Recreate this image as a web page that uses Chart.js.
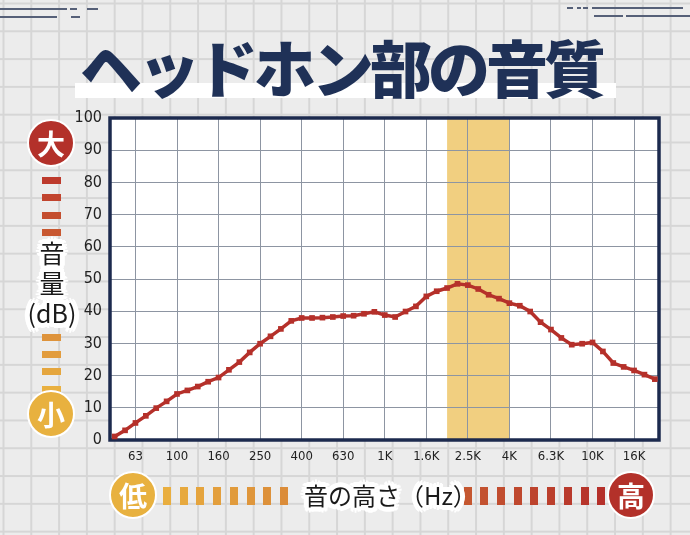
<!DOCTYPE html>
<html lang="ja">
<head>
<meta charset="utf-8">
<title>ヘッドホン部の音質</title>
<script src="https://cdn.jsdelivr.net/npm/chart.js@4.4.1/dist/chart.umd.min.js"></script>
<style>
  html, body { margin: 0; padding: 0; }
  body {
    width: 690px; height: 535px; overflow: hidden; position: relative;
    background-color: #ececec;
    background-image:
      linear-gradient(to right, #d6d6d6 1.5px, transparent 1.5px),
      linear-gradient(to bottom, #d6d6d6 1.5px, transparent 1.5px);
    background-size: 27.8px 27.8px;
    background-position: 2.5px 2.5px;
    font-family: "Noto Sans CJK JP", sans-serif;
  }
  #chart { position: absolute; left: 0; top: 0; }
  .deco { position: absolute; height: 2px; background: #566078; }
  .strip { position: absolute; left: 75px; top: 83px; width: 541px; height: 15px; background: #fff; }
  .title {
    position: absolute; left: 80px; top: 35px; margin: 0;
    font-size: 62px; line-height: 1; font-weight: 900; letter-spacing: -4px;
    color: #1f3157; white-space: nowrap;
  }
  .badge {
    position: absolute; width: 44px; height: 44px; border-radius: 50%;
    border: 2.5px solid #fff; color: #fff; font-size: 28px; font-weight: 700;
    display: flex; align-items: center; justify-content: center; line-height: 1;
  }
  .red { background: #b3312a; }
  .yellow { background: #e8b13f; }
  .dash { position: absolute; }
  .halo {
    position: absolute; color: #1a1a1a; font-weight: 400; white-space: nowrap;
    text-shadow:
      5px 0 #fff, -5px 0 #fff, 0 5px #fff, 0 -5px #fff,
      4px 3px #fff, -4px 3px #fff, 4px -3px #fff, -4px -3px #fff,
      3px 4px #fff, -3px 4px #fff, 3px -4px #fff, -3px -4px #fff,
      3px 0 #fff, -3px 0 #fff, 0 3px #fff, 0 -3px #fff,
      2px 2px #fff, -2px 2px #fff, 2px -2px #fff, -2px -2px #fff,
      1px 0 #fff, -1px 0 #fff, 0 1px #fff, 0 -1px #fff;
  }
  .yname { left: 12px; top: 237px; width: 80px; text-align: center; font-size: 25px; line-height: 30px; }
  .xname { left: 304px; top: 480px; font-size: 24px; line-height: 30px; }
</style>
</head>
<body>
<canvas id="chart" width="690" height="535"></canvas>

<div class="deco" style="left:0;top:8px;width:67px"></div>
<div class="deco" style="left:70px;top:8px;width:7px"></div>
<div class="deco" style="left:87px;top:8px;width:11px"></div>
<div class="deco" style="left:0;top:16px;width:57px"></div>
<div class="deco" style="left:71px;top:16px;width:9px"></div>
<div class="deco" style="left:567px;top:7px;width:6px"></div>
<div class="deco" style="left:577px;top:7px;width:4px"></div>
<div class="deco" style="left:583px;top:7px;width:5px"></div>
<div class="deco" style="left:592px;top:7px;width:91px"></div>
<div class="deco" style="left:594px;top:15px;width:29px"></div>
<div class="deco" style="left:626px;top:15px;width:64px"></div>

<div class="strip"></div>
<h1 class="title">ヘッドホン部の音質</h1>

<div id="dashes"></div>

<div class="halo yname">音<br>量<br>(dB)</div>
<div class="halo xname">音の高さ（Hz）</div>

<div class="badge red" style="left:27px;top:119px">大</div>
<div class="badge yellow" style="left:27px;top:390px">小</div>
<div class="badge yellow" style="left:109px;top:471px">低</div>
<div class="badge red" style="left:607px;top:471px">高</div>

<script>
// 周波数軸（1/6オクターブ刻みの測定点インデックス）
const FREQ_TICK_POS = [2, 6, 10, 14, 18, 22, 26, 30, 34, 38, 42, 46, 50];
const FREQ_TICK_LABELS = ['63', '100', '160', '250', '400', '630', '1K', '1.6K', '2.5K', '4K', '6.3K', '10K', '16K'];

// 音量 (dB)
const DB_VALUES = [
    1.1, 3.0, 5.3, 7.5, 9.9, 12.0, 14.3, 15.4, 16.6, 18.1,
    19.4, 21.8, 24.2, 27.2, 29.9, 32.2, 34.5, 37.0, 37.9, 37.9,
    38.0, 38.2, 38.5, 38.6, 39.2, 39.8, 38.8, 38.2, 39.9, 41.5,
    44.6, 46.2, 47.2, 48.5, 48.1, 46.9, 45.1, 43.9, 42.5, 41.7,
    39.9, 36.6, 34.3, 31.7, 29.6, 29.9, 30.3, 27.5, 23.9, 22.7,
    21.6, 20.3, 18.9
];

// 強調帯域 2K〜4K
const HIGHLIGHT_BAND = [32, 38];

const Y_MIN = 0;
const Y_MAX = 100;
const Y_STEP = 10;

const TICK_FONT = "'DejaVu Sans', sans-serif";

// 装飾の破線
function mix(a, b, t) {
    const pa = a.match(/\w\w/g).map(h => parseInt(h, 16));
    const pb = b.match(/\w\w/g).map(h => parseInt(h, 16));
    return 'rgb(' + pa.map((v, i) => Math.round(v + (pb[i] - v) * t)).join(',') + ')';
}

function addDashes() {
    const box = document.getElementById('dashes');
    // 縦（左側）
    for (let i = 0; i < 13; i++) {
        const y = 177 + i * 17.4;
        if (y > 238 && y < 326) continue;
        const d = document.createElement('div');
        d.className = 'dash';
        d.style.cssText = `left:42px;top:${y}px;width:19px;height:7px;background:${mix('bd3a2c', 'e9b040', i / 12)}`;
        box.appendChild(d);
    }
    // 横（下側）
    for (let i = 0; i < 27; i++) {
        const x = 163 + i * 16.7;
        if (x > 296 && x < 460) continue;
        const d = document.createElement('div');
        d.className = 'dash';
        d.style.cssText = `left:${x}px;top:487px;width:8px;height:18px;background:${mix('e9ae3f', 'b5302a', i / 26)}`;
        box.appendChild(d);
    }
}
addDashes();

const panelPlugin = {
    id: 'panel',
    beforeDraw(chart) {
        const { ctx, chartArea: a, scales: { x } } = chart;
        ctx.save();
        ctx.fillStyle = '#ffffff';
        ctx.fillRect(a.left, a.top, a.right - a.left, a.bottom - a.top);
        const x0 = x.getPixelForValue(HIGHLIGHT_BAND[0]);
        const x1 = x.getPixelForValue(HIGHLIGHT_BAND[1]);
        ctx.fillStyle = '#f1cf80';
        ctx.fillRect(x0, a.top, x1 - x0, a.bottom - a.top);
        ctx.restore();
    },
    beforeDatasetsDraw(chart) {
        const { ctx, chartArea: a } = chart;
        ctx.save();
        ctx.strokeStyle = '#1c2a4e';
        ctx.lineWidth = 3.5;
        ctx.strokeRect(a.left, a.top, a.right - a.left, a.bottom - a.top);
        ctx.restore();
    }
};

const ctx = document.getElementById('chart').getContext('2d');
new Chart(ctx, {
    type: 'line',
    data: {
        datasets: [{
            data: DB_VALUES.map((v, i) => ({ x: i, y: v })),
            borderColor: '#b5302a',
            backgroundColor: '#b5302a',
            borderWidth: 3.5,
            pointStyle: 'rect',
            pointRadius: 4,
            pointBorderWidth: 0,
            tension: 0,
            clip: false
        }]
    },
    options: {
        responsive: false,
        animation: false,
        layout: { padding: { left: 50, top: 118, right: 31, bottom: 55 } },
        plugins: {
            legend: { display: false },
            tooltip: { enabled: false }
        },
        scales: {
            x: {
                type: 'linear',
                min: -0.45,
                max: 52.4,
                afterBuildTicks: s => { s.ticks = FREQ_TICK_POS.map(v => ({ value: v })); },
                afterFit: s => { s.height = 40; },
                ticks: {
                    autoSkip: false,
                    maxRotation: 0,
                    padding: 9,
                    color: '#222',
                    font: { family: TICK_FONT, size: 13, weight: 'condensed' },
                    callback: (v, i) => FREQ_TICK_LABELS[i]
                },
                grid: { color: '#8d95a2', lineWidth: 1, drawTicks: false },
                border: { display: false }
            },
            y: {
                min: Y_MIN,
                max: Y_MAX,
                afterFit: s => { s.width = 60; },
                ticks: {
                    stepSize: Y_STEP,
                    padding: 8,
                    color: '#222',
                    font: { family: TICK_FONT, size: 16, weight: 'condensed' }
                },
                grid: { color: '#8d95a2', lineWidth: 1, drawTicks: false },
                border: { display: false }
            }
        }
    },
    plugins: [panelPlugin]
});
</script>
</body>
</html>
